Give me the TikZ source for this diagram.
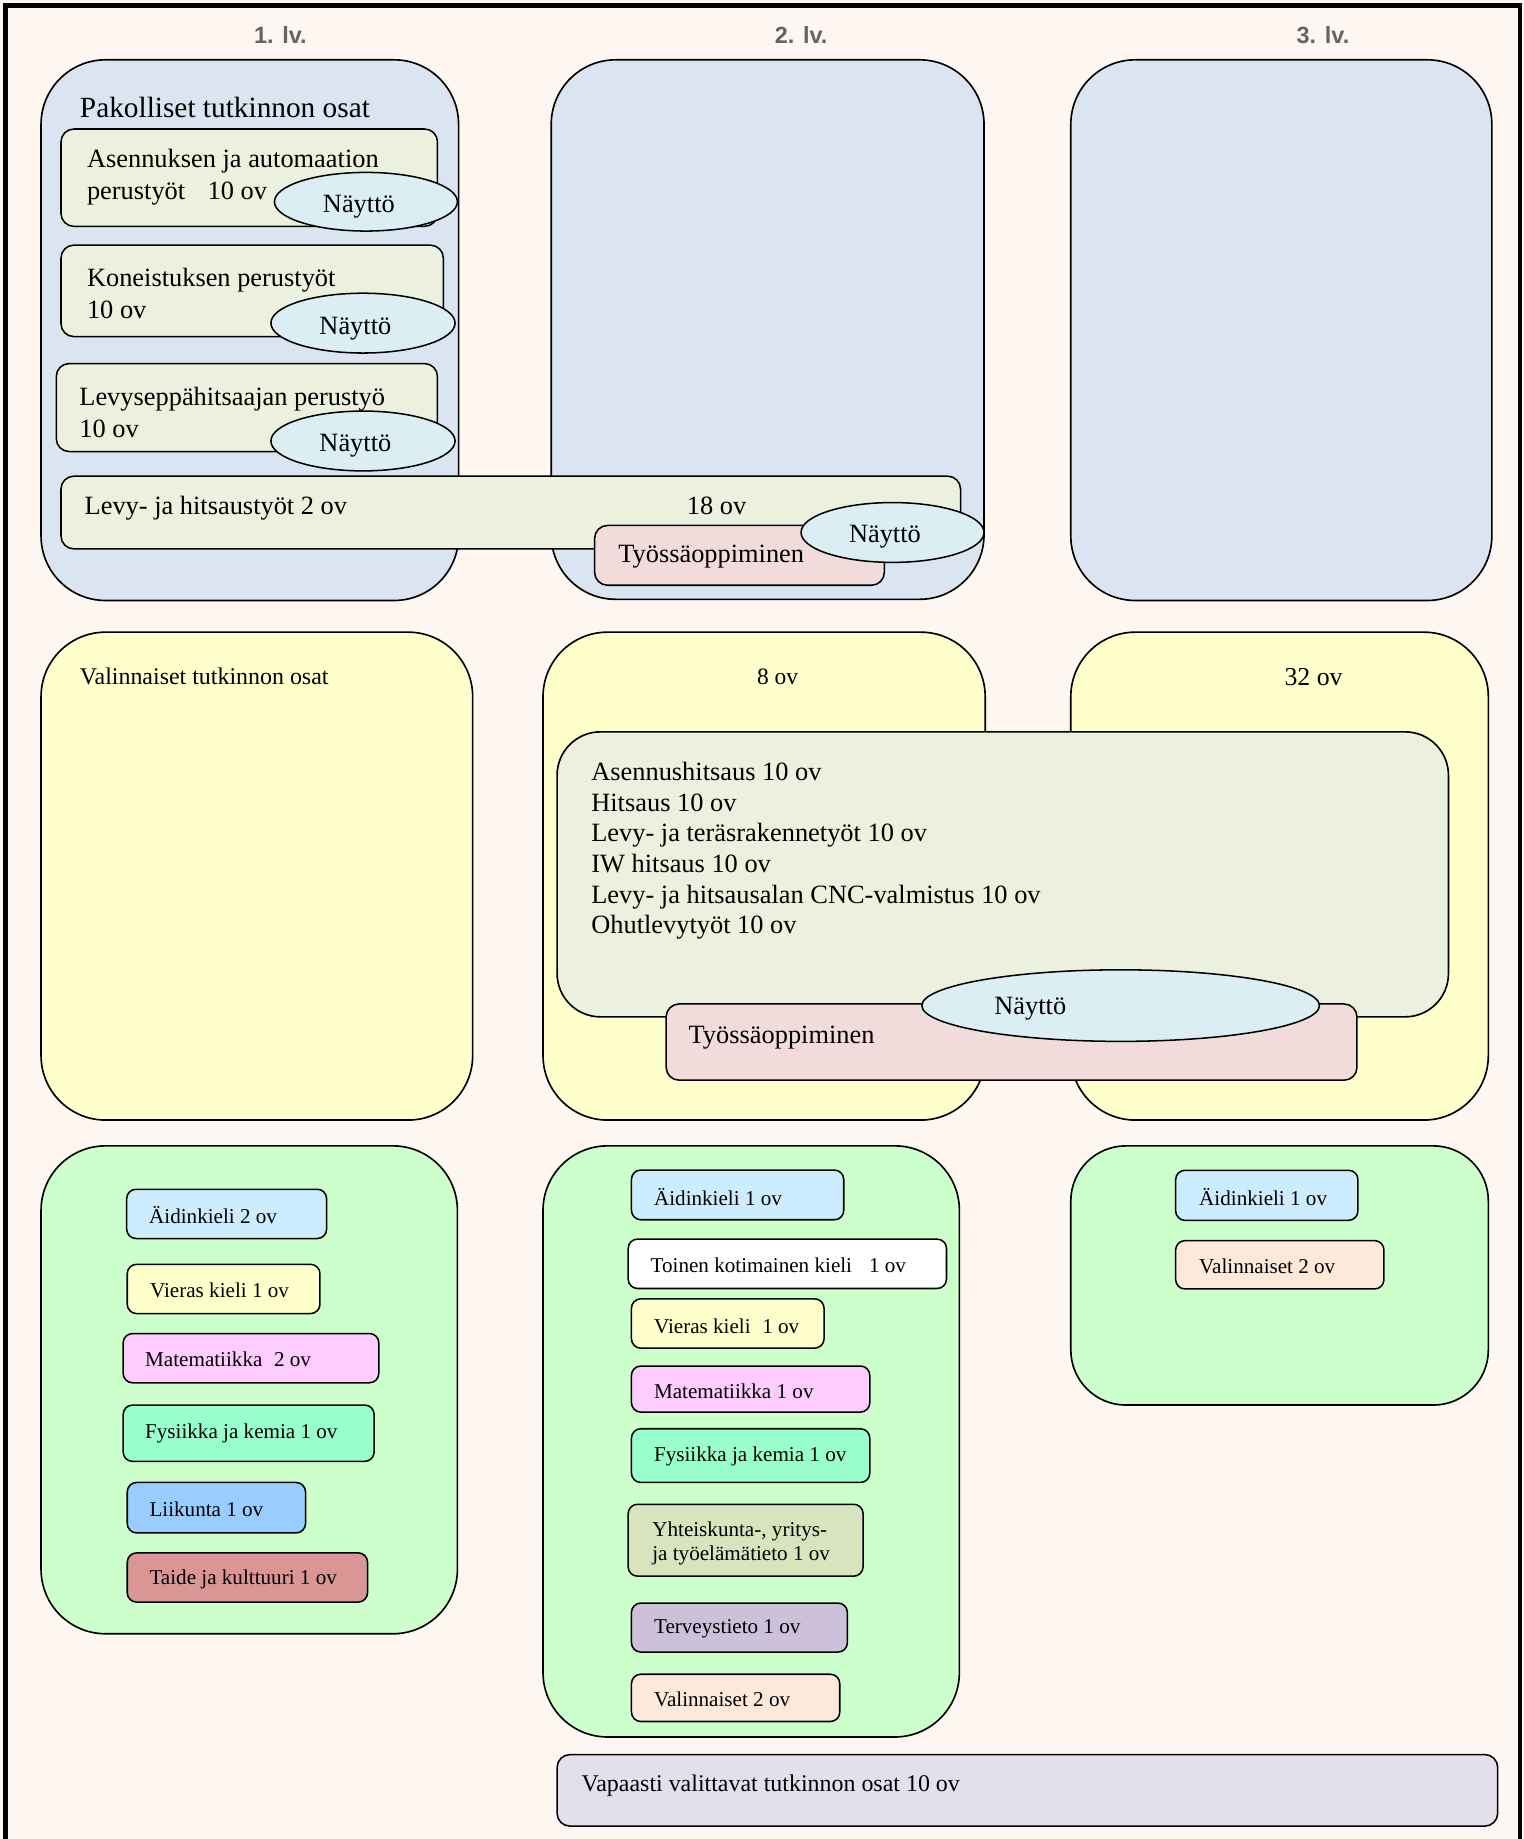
\documentclass[tikz,border=0pt]{standalone}
\usepackage{fontspec}
\setmainfont{Liberation Serif}
\setsansfont{Liberation Sans}
\usetikzlibrary{shapes.geometric}
\definecolor{bgc}{RGB}{254,246,241}
\definecolor{blueb}{RGB}{219,229,241}
\definecolor{lgreen}{RGB}{235,241,222}
\definecolor{nay}{RGB}{218,238,243}
\definecolor{pinkb}{RGB}{242,220,219}
\definecolor{yel}{RGB}{255,255,204}
\definecolor{grn}{RGB}{204,255,204}
\definecolor{aid}{RGB}{204,236,255}
\definecolor{mat}{RGB}{255,204,255}
\definecolor{fys}{RGB}{153,255,204}
\definecolor{liik}{RGB}{153,204,255}
\definecolor{taide}{RGB}{217,150,148}
\definecolor{yht}{RGB}{215,228,189}
\definecolor{terv}{RGB}{204,192,218}
\definecolor{vali}{RGB}{253,233,217}
\definecolor{vap}{RGB}{228,223,236}
\definecolor{hdr}{RGB}{100,100,100}
\newcommand\bx[6][]{\node[#1,inner sep=0pt,outer sep=0pt,minimum width=#5pt-#3pt,minimum height=#6pt-#4pt] (#2) at ({(#3+#5)/2},{(#4+#6)/2}) {};}
\tikzset{
  bigbox/.style={draw,line width=1.4pt,rounded corners=55pt},
  midbox/.style={draw,line width=1.4pt,rounded corners=37pt},
  inbox/.style={draw,line width=1.3pt,rounded corners=11pt},
  smallbox/.style={draw,line width=1.3pt,rounded corners=8pt},
  nayt/.style={ellipse,draw,line width=1.3pt,fill=nay,inner sep=0pt},
  naytxt/.style={inner sep=0pt,font=\fontsize{22.5}{26}\selectfont},
  txt/.style={anchor=west,inner sep=0pt,align=left,font=\fontsize{22.5}{27}\selectfont},
  dsc/.style={yshift=-2.5pt},
  itxt/.style={anchor=west,inner sep=0pt,align=left,yshift=-1pt,font=\fontsize{18}{20.5}\selectfont},
  hdrtxt/.style={inner sep=0pt,text=hdr,font=\sffamily\bfseries\fontsize{20}{24}\selectfont}
}
\begin{document}
\begin{tikzpicture}[x=1pt,y=-1pt]
\fill[bgc] (0,0) rectangle (1299,1568);
\useasboundingbox (0,0) rectangle (1299,1568);
% headers
\node[hdrtxt] (h1) at (239,30) {1. lv.};
\node[hdrtxt] (h2) at (683,30) {2. lv.};
\node[hdrtxt] (h3) at (1128,30) {3. lv.};
% top row
\bx[bigbox,fill=blueb]{t1}{35}{51}{391}{512}
\bx[bigbox,fill=blueb]{t2}{470}{51}{839}{511}
\bx[bigbox,fill=blueb]{t3}{913}{51}{1272}{512}
\node[txt,font=\fontsize{25}{30}\selectfont] (pak) at (68,92) {Pakolliset tutkinnon osat};
\bx[inbox,fill=lgreen]{a1}{52}{110}{373}{193}
\node[txt,dsc] (a1t) at (74,148.5) {Asennuksen ja automaation\\perustyöt\hspace{0.85em}10 ov};
\node[nayt,minimum width=156pt,minimum height=50pt] (e1) at (312,172) {};
\node[naytxt] (e1t) at (306,176) {Näyttö};
\bx[inbox,fill=lgreen]{a2}{52}{209}{378}{287}
\node[txt,dsc] (a2t) at (74,248) {Koneistuksen perustyöt\\10 ov};
\node[nayt,minimum width=157pt,minimum height=51pt] (e2) at (309.5,275.5) {};
\node[naytxt] (e2t) at (303,280) {Näyttö};
\bx[inbox,fill=lgreen]{a3}{48}{310}{373}{385}
\node[txt,dsc] (a3t) at (67.5,349) {Levyseppähitsaajan perustyö\\10 ov};
\node[nayt,minimum width=157pt,minimum height=51pt] (e3) at (309.5,376) {};
\node[naytxt] (e3t) at (303,380) {Näyttö};
\bx[inbox,fill=lgreen]{lh}{52}{406}{819}{468}
\node[txt,dsc] (lht) at (72,431) {Levy- ja hitsaustyöt 2 ov};
\node[naytxt] (lh18) at (611,431) {18 ov};
\bx[inbox,fill=pinkb]{ty1}{507}{448}{754}{499}
\node[txt,dsc] (ty1t) at (527,472) {Työssäoppiminen};
\node[nayt,minimum width=156pt,minimum height=51pt] (e4) at (761,454) {};
\node[naytxt] (e4t) at (754.5,458) {Näyttö};
% middle row
\bx[bigbox,fill=yel]{y1}{35}{539}{403}{955}
\bx[bigbox,fill=yel]{y2}{463}{539}{840}{955}
\bx[bigbox,fill=yel]{y3}{913}{539}{1269}{955}
\node[txt,font=\fontsize{20.4}{24}\selectfont] (valt) at (68,577) {Valinnaiset tutkinnon osat};
\node[inner sep=0pt,font=\fontsize{20}{24}\selectfont] (ov8) at (663,577) {8 ov};
\node[inner sep=0pt,font=\fontsize{22}{26}\selectfont] (ov32) at (1120,577) {32 ov};
\bx[midbox,fill=lgreen]{g}{475}{624}{1235}{867}
\node[txt,dsc,font=\fontsize{22.5}{26.1}\selectfont] (gt) at (504,723) {Asennushitsaus 10 ov\\Hitsaus 10 ov\\Levy- ja teräsrakennetyöt 10 ov\\IW hitsaus 10 ov\\Levy- ja hitsausalan CNC-valmistus 10 ov\\Ohutlevytyöt 10 ov};
\bx[inbox,fill=pinkb]{ty2}{568}{856}{1157}{921}
\node[txt,dsc] (ty2t) at (587,882) {Työssäoppiminen};
\node[nayt,minimum width=339pt,minimum height=61pt] (e5) at (955.5,857.4) {};
\node[naytxt] (e5t) at (878.5,860) {Näyttö};
% bottom row
\bx[bigbox,fill=grn]{b1}{35}{977}{390}{1393}
\bx[bigbox,fill=grn]{b2}{463}{977}{818}{1481}
\bx[bigbox,rounded corners=47pt,fill=grn]{b3}{913}{977}{1269}{1198}
% B1 items
\bx[smallbox,fill=aid]{b1a}{108}{1014}{278.5}{1056}
\node[itxt] (b1at) at (127,1035) {Äidinkieli 2 ov};
\bx[smallbox,fill=yel]{b1b}{108.5}{1078}{272.8}{1120}
\node[itxt] (b1bt) at (127.8,1099) {Vieras kieli 1 ov};
\bx[smallbox,fill=mat]{b1c}{105}{1137}{323}{1179}
\node[itxt] (b1ct) at (123.6,1158) {Matematiikka\hspace{0.55em}2 ov};
\bx[smallbox,fill=fys]{b1d}{105}{1198}{319}{1246}
\node[itxt] (b1dt) at (123.6,1221) {Fysiikka ja kemia 1 ov};
\bx[smallbox,fill=liik]{b1e}{108.5}{1264}{260.5}{1307}
\node[itxt] (b1et) at (127.3,1286) {Liikunta 1 ov};
\bx[smallbox,fill=taide]{b1f}{108.5}{1324}{313.4}{1366}
\node[itxt] (b1ft) at (127.3,1346) {Taide ja kulttuuri 1 ov};
% B2 items
\bx[smallbox,fill=aid]{b2a}{538.4}{997.6}{719.4}{1040}
\node[itxt] (b2at) at (557.5,1019.5) {Äidinkieli 1 ov};
\bx[smallbox,fill=white]{b2b}{535.6}{1056.5}{807}{1098.6}
\node[itxt] (b2bt) at (554.6,1078) {Toinen kotimainen kieli\hspace{0.8em}1 ov};
\bx[smallbox,fill=yel]{b2c}{538.4}{1107.4}{702.6}{1149.5}
\node[itxt] (b2ct) at (557.5,1129.5) {Vieras kieli\hspace{0.55em}1 ov};
\bx[smallbox,fill=mat]{b2d}{538.4}{1164.7}{741.6}{1204}
\node[itxt] (b2dt) at (557.5,1185.5) {Matematiikka 1 ov};
\bx[smallbox,fill=fys]{b2e}{538.4}{1218.2}{741.6}{1264}
\node[itxt] (b2et) at (557.5,1240.5) {Fysiikka ja kemia 1 ov};
\bx[smallbox,fill=yht]{b2f}{535.6}{1282.6}{735.9}{1343.9}
\node[itxt] (b2ft) at (556,1315) {Yhteiskunta-, yritys-\\ja työelämätieto 1 ov};
\bx[smallbox,fill=terv]{b2g}{538.4}{1366.8}{722.5}{1408.6}
\node[itxt] (b2gt) at (557.5,1388) {Terveystieto 1 ov};
\bx[smallbox,fill=vali]{b2h}{538.4}{1427.5}{716}{1467.8}
\node[itxt] (b2ht) at (557.5,1448) {Valinnaiset 2 ov};
% B3 items
\bx[smallbox,fill=aid]{b3a}{1002.4}{997.8}{1157.8}{1040.5}
\node[itxt] (b3at) at (1022.3,1019.5) {Äidinkieli 1 ov};
\bx[smallbox,fill=vali]{b3b}{1002.4}{1057.8}{1180}{1099}
\node[itxt] (b3bt) at (1022.3,1079) {Valinnaiset 2 ov};
% free choice
\bx[inbox,fill=vap]{vp}{475}{1496}{1277}{1557}
\node[txt,dsc,font=\fontsize{20.4}{24}\selectfont] (vpt) at (495.8,1520) {Vapaasti valittavat tutkinnon osat 10 ov};
% frame
\draw[line width=3.8pt] (4.5,4.5) rectangle (1296,1600);
\end{tikzpicture}
\end{document}
